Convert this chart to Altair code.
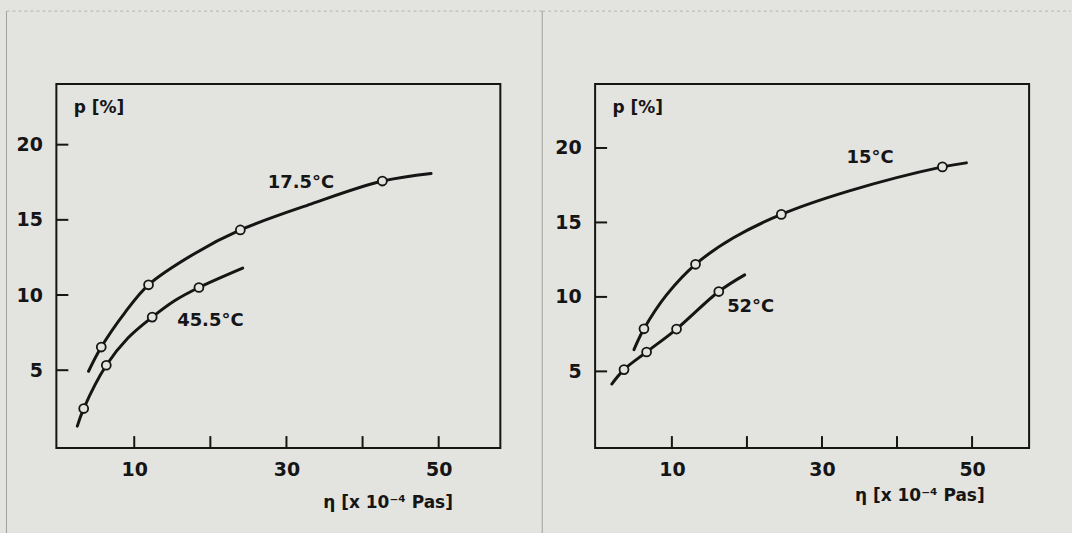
import altair as alt
import pandas as pd

# ---------------- data ----------------
# left panel
eta_175_curve = [4.0, 5.67, 8.73, 11.88, 17.9, 23.94, 33.2, 42.6, 49.0]
p_175_curve = [4.93, 6.54, 8.8, 10.68, 12.75, 14.33, 16.05, 17.58, 18.09]
eta_175_pts = [5.67, 11.88, 23.94, 42.6]
p_175_pts = [6.54, 10.68, 14.33, 17.58]

eta_455_curve = [2.52, 3.36, 6.33, 9.17, 12.36, 15.3, 18.5, 24.25]
p_455_curve = [1.28, 2.45, 5.33, 7.14, 8.53, 9.62, 10.5, 11.79]
eta_455_pts = [3.36, 6.33, 12.36, 18.5]
p_455_pts = [2.45, 5.33, 8.53, 10.5]

# right panel
eta_15_curve = [4.95, 6.28, 9.29, 13.15, 18.15, 24.58, 33.65, 46.05, 49.24]
p_15_curve = [6.46, 7.86, 10.14, 12.19, 13.95, 15.54, 17.12, 18.73, 19.0]
eta_15_pts = [6.28, 13.15, 24.58, 46.05]
p_15_pts = [7.86, 12.19, 15.54, 18.73]

eta_52_curve = [1.99, 3.62, 6.63, 10.62, 16.25, 19.7]
p_52_curve = [4.15, 5.12, 6.3, 7.84, 10.36, 11.48]
eta_52_pts = [3.62, 6.63, 10.62, 16.25]
p_52_pts = [5.12, 6.3, 7.84, 10.36]

left_labels = ["17.5°C", "45.5°C"]
left_label_eta = [31.9, 20.0]
left_label_p = [17.47, 8.26]
right_labels = ["15°C", "52°C"]
right_label_eta = [36.4, 20.5]
right_label_p = [19.33, 9.29]

x_tick_values = [10, 20, 30, 40, 50]
x_label_values = [10, 30, 50]
y_tick_values = [5, 10, 15, 20]

X_TITLE = "η [x 10⁻⁴ Pas]"
Y_TITLE = "p [%]"

BG = "#e3e3e0"
INK = "#151515"
FONT = "DejaVu Sans"
WEIGHT = "bold"
H = 365


def panel(width, xdom, ydom, curves, points, labels, title_x, title_y,
          border_x, top_x1, top_x2):
    xs = alt.Scale(domain=xdom, nice=False, zero=False)
    ys = alt.Scale(domain=ydom, nice=False, zero=False)
    xaxis = alt.Axis(values=x_label_values, domain=False, ticks=False, tickSize=0,
                     grid=False, labelFontSize=19, labelFont=FONT, labelColor=INK,
                     labelFontWeight=WEIGHT,
                     labelPadding=12, labelFlush=False,
                     title=X_TITLE, titleX=title_x, titleY=title_y,
                     titleAlign="center", titleBaseline="middle",
                     titleFontSize=17, titleFont=FONT, titleFontWeight=WEIGHT,
                     titleColor=INK)
    yaxis = alt.Axis(values=y_tick_values, domain=False, ticks=False, tickSize=0,
                     grid=False, labelFontSize=19, labelFont=FONT, labelColor=INK,
                     labelFontWeight=WEIGHT,
                     labelPadding=14, labelFlush=False,
                     title=Y_TITLE, titleAngle=0, titleX=17, titleY=24,
                     titleAlign="left", titleBaseline="middle",
                     titleFontSize=17, titleFont=FONT, titleFontWeight=WEIGHT,
                     titleColor=INK)

    rows = []
    for name, xs_, ys_ in curves:
        for a, b in zip(xs_, ys_):
            rows.append({"eta": a, "p": b, "series": name})
    cdf = pd.DataFrame(rows)
    prow = []
    for name, xs_, ys_ in points:
        for a, b in zip(xs_, ys_):
            prow.append({"eta": a, "p": b, "series": name})
    pdf = pd.DataFrame(prow)
    ldf = pd.DataFrame({"eta": labels[1], "p": labels[2], "label": labels[0]})

    lines = alt.Chart(cdf).mark_line(interpolate="catmull-rom", strokeWidth=3,
                                     color=INK, strokeCap="round").encode(
        x=alt.X("eta:Q", scale=xs, axis=xaxis),
        y=alt.Y("p:Q", scale=ys, axis=yaxis),
        detail="series:N",
    )
    pts = alt.Chart(pdf).mark_point(shape="circle", filled=True, fill=BG,
                                    stroke=INK, strokeWidth=1.8, size=80,
                                    opacity=1).encode(
        x=alt.X("eta:Q", scale=xs),
        y=alt.Y("p:Q", scale=ys),
    )
    txt = alt.Chart(ldf).mark_text(fontSize=18, font=FONT, color=INK,
                                   fontWeight=WEIGHT).encode(
        x=alt.X("eta:Q", scale=xs),
        y=alt.Y("p:Q", scale=ys),
        text="label:N",
    )
    xt = alt.Chart(pd.DataFrame({"eta": x_tick_values})).mark_rule(
        color=INK, strokeWidth=2).encode(
        x=alt.X("eta:Q", scale=xs),
        y=alt.value(H), y2=alt.value(H - 12),
    )
    yt = alt.Chart(pd.DataFrame({"p": y_tick_values})).mark_rule(
        color=INK, strokeWidth=2).encode(
        y=alt.Y("p:Q", scale=ys),
        x=alt.value(0), x2=alt.value(12),
    )
    one = pd.DataFrame({"k": [0]})
    vline = alt.Chart(one).mark_rule(color="#a0a09d", strokeWidth=1).encode(
        x=alt.value(border_x), y=alt.value(-73), y2=alt.value(450.5))
    hline = alt.Chart(one).mark_rule(color="#b4b4b0", strokeWidth=1,
                                     strokeDash=[3, 3]).encode(
        x=alt.value(top_x1), x2=alt.value(top_x2), y=alt.value(-73))
    return alt.layer(vline, hline, lines, xt, yt, pts, txt).properties(
        width=width, height=H)


left = panel(
    445, [-0.23, 58.1], [-0.18, 24.04],
    [("a", eta_175_curve, p_175_curve), ("b", eta_455_curve, p_455_curve)],
    [("a", eta_175_pts, p_175_pts), ("b", eta_455_pts, p_455_pts)],
    (left_labels, left_label_eta, left_label_p),
    332, 55, -50, -50, 487,
)
right = panel(
    435, [-0.23, 57.6], [-0.15, 24.3],
    [("a", eta_15_curve, p_15_curve), ("b", eta_52_curve, p_52_curve)],
    [("a", eta_15_pts, p_15_pts), ("b", eta_52_pts, p_52_pts)],
    (right_labels, right_label_eta, right_label_p),
    325, 48, -53, -53, 476.5,
)

chart = alt.hconcat(left, right, spacing=95, bounds="flush").properties(
    padding={"left": 4.5, "top": 8.5, "right": 0, "bottom": 0},
    background=BG,
).configure_view(stroke=INK, strokeWidth=2)

chart.save("out.html", embed_options={"renderer": "svg", "actions": False})
